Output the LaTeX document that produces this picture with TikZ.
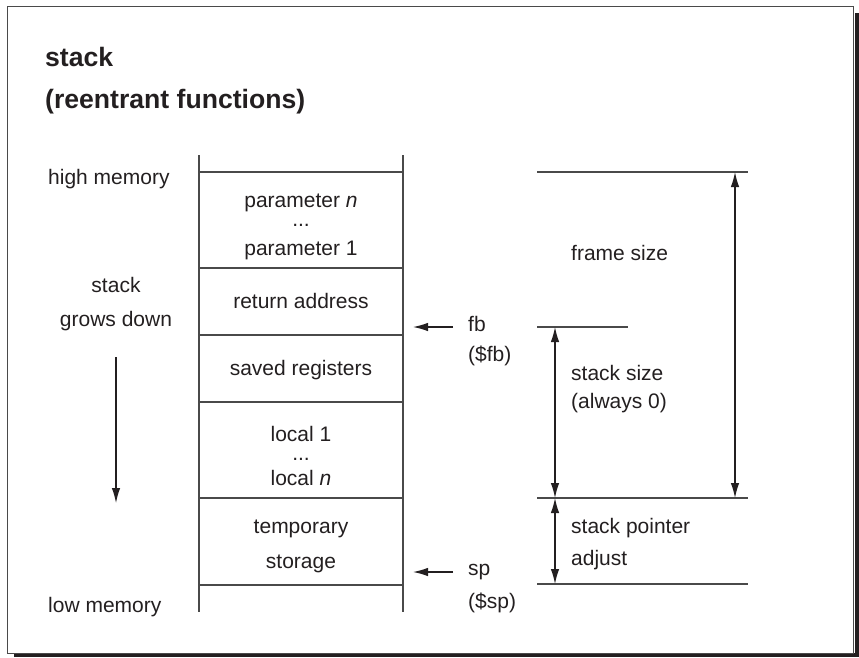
\documentclass[tikz,border=0pt]{standalone}
\usepackage{fontspec}
\setmainfont{Liberation Sans}
\usetikzlibrary{arrows.meta}
\definecolor{ink}{HTML}{231F20}
\definecolor{rule}{HTML}{4A4A4A}
\begin{document}
\begin{tikzpicture}[x=1pt,y=-1pt,
  lbl/.style={inner sep=0pt,anchor=base west,font=\fontsize{21}{25}\selectfont,text=ink},
  clbl/.style={inner sep=0pt,anchor=base,font=\fontsize{21}{25}\selectfont,text=ink},
  ttl/.style={inner sep=0pt,anchor=base west,font=\fontsize{26.6}{30}\selectfont\bfseries,text=ink},
  wall/.style={draw=rule,line width=1.3pt},
  arr/.style={draw=ink,line width=1.2pt,-{Latex[length=15pt,width=8.5pt]}},
  darr/.style={draw=ink,line width=1.2pt,{Latex[length=15pt,width=8.5pt]}-{Latex[length=15pt,width=8.5pt]}}]
\useasboundingbox (0,0) rectangle (859,657);
% frame and shadow
\fill[ink] (14,652.5) rectangle (859,657);
\fill[ink] (854.5,13) rectangle (859,657);
\draw[draw=rule,line width=1pt] (7,6.5) rectangle (853.5,653);
% titles
\node[ttl] (t1) at (45,66) {stack};
\node[ttl] (t2) at (45,108) {(reentrant functions)};
% left labels
\node[lbl] (hm) at (48,184) {high memory};
\node[clbl] (sg1) at (116,292) {stack};
\node[clbl] (sg2) at (116,326) {grows down};
\node[lbl] (lm) at (48,612) {low memory};
\coordinate (gd1) at (116,357);
\coordinate (gd2) at (116,503);
\draw[arr] (gd1) -- (gd2);
% stack column
\coordinate (L0) at (199,155); \coordinate (R0) at (403,155);
\coordinate (L7) at (199,612); \coordinate (R7) at (403,612);
\draw[wall] (L0) -- (L7);
\draw[wall] (R0) -- (R7);
\foreach \n/\y in {1/172,2/268,3/335,4/402,5/498,6/585}{
  \coordinate (L\n) at (199,\y); \coordinate (R\n) at (403,\y);
  \draw[wall] (L\n) -- (R\n);
}
\node[clbl] (p1) at (301,207) {parameter \textit{n}};
\node[clbl] (p2) at (301,226) {...};
\node[clbl] (p3) at (301,255) {parameter 1};
\node[clbl] (ra) at (301,308) {return address};
\node[clbl] (sr) at (301,375) {saved registers};
\node[clbl] (l1) at (301,441) {local 1};
\node[clbl] (l2) at (301,460) {...};
\node[clbl] (l3) at (301,485) {local \textit{n}};
\node[clbl] (ts1) at (301,533) {temporary};
\node[clbl] (ts2) at (301,568) {storage};
% pointers
\coordinate (fbs) at (453,327); \coordinate (fbe) at (413,327);
\draw[arr] (fbs) -- (fbe);
\node[lbl] (fb1) at (468,331) {fb};
\node[lbl] (fb2) at (468,361) {(\$fb)};
\coordinate (sps) at (453,572); \coordinate (spe) at (413,572);
\draw[arr] (sps) -- (spe);
\node[lbl] (sp1) at (468,575) {sp};
\node[lbl] (sp2) at (468,608) {(\$sp)};
% right dimension lines
\coordinate (a1) at (537,172); \coordinate (a2) at (748,172);
\coordinate (b1) at (537,327); \coordinate (b2) at (628,327);
\coordinate (c1) at (537,498); \coordinate (c2) at (748,498);
\coordinate (d1) at (537,584); \coordinate (d2) at (748,584);
\draw[wall] (a1) -- (a2);
\draw[wall] (b1) -- (b2);
\draw[wall] (c1) -- (c2);
\draw[wall] (d1) -- (d2);
\coordinate (fsT) at (735,172); \coordinate (fsB) at (735,498);
\draw[darr] (fsB) -- (fsT);
\coordinate (ssT) at (555,327); \coordinate (ssB) at (555,498);
\draw[darr] (ssB) -- (ssT);
\coordinate (spT) at (555,498); \coordinate (spB) at (555,584);
\draw[darr] (spT) -- (spB);
\node[lbl] (fs) at (571,260) {frame size};
\node[lbl] (ss1) at (571,380) {stack size};
\node[lbl] (ss2) at (571,408) {(always 0)};
\node[lbl] (sa1) at (571,533) {stack pointer};
\node[lbl] (sa2) at (571,565) {adjust};
\end{tikzpicture}
\end{document}
